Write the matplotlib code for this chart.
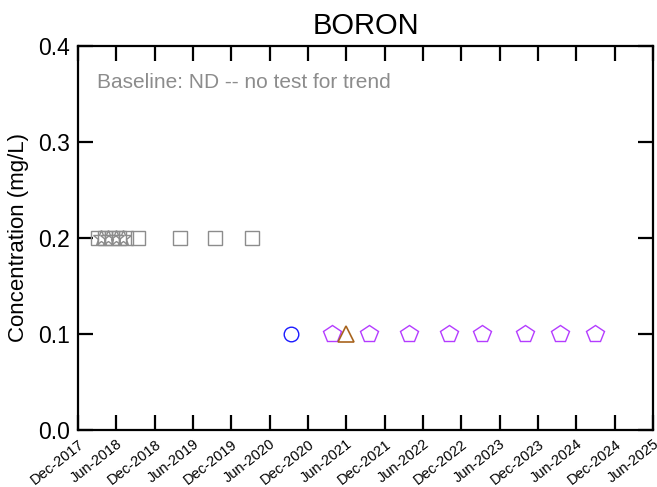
import matplotlib
matplotlib.use("Agg")
import matplotlib.pyplot as plt
import matplotlib.dates as mdates
import numpy as np
import pandas as pd

plt.rcParams['font.family'] = ['Liberation Sans', 'DejaVu Sans']

# gray squares (earlier non-detects)
sq_dates = pd.to_datetime(["2018-03-05", "2018-04-08", "2018-05-12", "2018-06-15", "2018-07-20",
                           "2018-09-13", "2019-04-01", "2019-09-14", "2020-03-09"])
sq_vals = [0.2] * len(sq_dates)
# gray stars overlapping the squares
st_dates = pd.to_datetime(["2018-03-22", "2018-04-25", "2018-05-29", "2018-07-02"])
st_vals = [0.2] * len(st_dates)
# blue circle
ci_dates = pd.to_datetime(["2020-09-10"])
ci_vals = [0.1]
# brown triangle
tr_dates = pd.to_datetime(["2021-05-31"])
tr_vals = [0.1]
# violet pentagons
pe_dates = pd.to_datetime(["2021-03-25", "2021-09-17", "2022-03-26", "2022-10-03", "2023-03-09",
                           "2023-09-30", "2024-03-14", "2024-08-28"])
pe_vals = [0.1] * len(pe_dates)

tick_dates = pd.date_range("2017-12-01", "2025-06-01", freq="6MS")

fig = plt.figure(figsize=(6.57, 4.87), dpi=100)
ax = fig.add_axes([78 / 657, 1 - 430 / 487, 575 / 657, 384 / 487])

ax.plot(sq_dates, sq_vals, 's', mfc='none', mec='#8c8c8c', ms=9.5, mew=1.0, ls='none')
ax.plot(st_dates, st_vals, '*', mfc='none', mec='#8c8c8c', ms=12, mew=1.0, ls='none')
ax.plot(ci_dates, ci_vals, 'o', mfc='none', mec='#1a1aff', ms=10.5, mew=1.0, ls='none')
ax.plot(pe_dates, pe_vals, 'p', mfc='none', mec='#b43cff', ms=13, mew=1.0, ls='none')
ax.plot(tr_dates, tr_vals, '^', mfc='none', mec='#a8641e', ms=11, mew=1.2, ls='none')

ax.set_xlim(tick_dates[0], tick_dates[-1])
ax.set_ylim(0, 0.4)
ax.set_yticks([0.0, 0.1, 0.2, 0.3, 0.4])
ax.set_yticklabels(["0.0", "0.1", "0.2", "0.3", "0.4"], fontsize=16.5)
ax.set_xticks(tick_dates)
ax.xaxis.set_major_formatter(mdates.DateFormatter("%b-%Y"))
for lab in ax.get_xticklabels():
    lab.set_rotation(38)
    lab.set_ha('right')
    lab.set_rotation_mode('anchor')
    lab.set_fontsize(10.5)

ax.tick_params(direction='in', length=11, width=1.6, top=True, right=True, pad=5)
ax.tick_params(axis='y', pad=6)
for sp in ax.spines.values():
    sp.set_linewidth(1.6)

ax.set_ylabel("Concentration (mg/L)", fontsize=16, labelpad=6)
ax.set_title("BORON", fontsize=21, pad=9)
ax.text(0.033, 0.93, "Baseline: ND -- no test for trend", transform=ax.transAxes,
        fontsize=15, color='#8c8c8c', va='top', ha='left')

fig.savefig("out.png", dpi=100)
